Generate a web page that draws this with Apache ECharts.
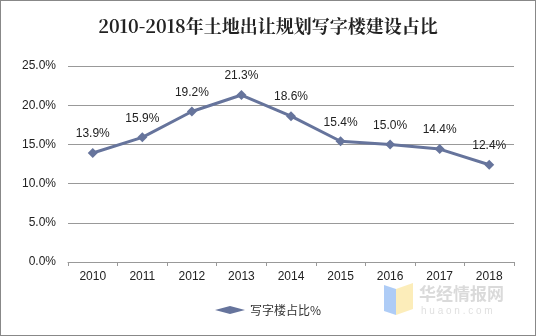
<!DOCTYPE html>
<html><head><meta charset="utf-8">
<script src="https://cdn.jsdelivr.net/npm/echarts@6/dist/echarts.min.js"></script>
<style>html,body{margin:0;padding:0;background:#fff}#c{width:536px;height:336px;box-sizing:border-box;border:1px solid #888}</style>
</head><body><div id="c"></div>
<script>
const categories = ['2010','2011','2012','2013','2014','2015','2016','2017','2018'];
const values = [13.9, 15.9, 19.2, 21.3, 18.6, 15.4, 15.0, 14.4, 12.4];
const yTicks = [0, 5, 10, 15, 20, 25];
const seriesName = '写字楼占比%';
const title = '2010-2018年土地出让规划写字楼建设占比';

const chart = echarts.init(document.getElementById('c'));
chart.setOption({
  animation: false,
  title: { text: title, left: 'center', top: 11,
    textStyle: { fontFamily: '"Noto Serif CJK SC","Noto Sans CJK SC",serif', fontWeight: 'bold', fontSize: 18, color: '#222' } },
  grid: { left: 67, right: 21, top: 65, bottom: 73, containLabel: false },
  legend: { bottom: 14, left: 'center', itemWidth: 30, itemHeight: 8,
    textStyle: { fontFamily: '"Noto Sans CJK SC",sans-serif', fontSize: 12, color: '#333' },
    data: [{ name: seriesName, icon: 'diamond' }] },
  xAxis: { type: 'category', data: categories, boundaryGap: true,
    axisLine: { lineStyle: { color: '#999' } },
    axisTick: { show: true, length: 4, lineStyle: { color: '#999' } },
    axisLabel: { color: '#222', fontFamily: 'Liberation Sans, Arial, sans-serif', fontSize: 12, margin: 9 } },
  yAxis: { type: 'value', min: yTicks[0], max: yTicks[yTicks.length-1], interval: 5,
    axisLine: { show: false }, axisTick: { show: false },
    splitLine: { lineStyle: { color: '#999' } },
    axisLabel: { color: '#222', fontFamily: 'Liberation Sans, Arial, sans-serif', fontSize: 12, margin: 12,
      formatter: v => v.toFixed(1) + '%' } },
  series: [{
    name: seriesName, type: 'line', data: values,
    symbol: 'diamond', symbolSize: 10,
    lineStyle: { color: '#66749C', width: 3 },
    itemStyle: { color: '#66749C' },
    label: { show: true, position: 'top', distance: 8, color: '#222',
      fontFamily: 'Liberation Sans, Arial, sans-serif', fontSize: 12,
      formatter: p => p.value.toFixed(1) + '%' }
  }],
  graphic: [
    { type: 'text', left: 418, top: 284, style: { text: '华经情报网', fill: 'rgba(150,150,150,0.35)', font: 'bold 17px "Noto Sans CJK SC"' } },
    { type: 'text', left: 420, top: 305, style: { text: 'h u a o n . c o m', fill: 'rgba(150,150,150,0.3)', font: '10px sans-serif' } },
    { type: 'polygon', shape: { points: [[383,284],[395,288],[395,314],[383,310]] }, style: { fill: 'rgba(120,170,240,0.6)' } },
    { type: 'polygon', shape: { points: [[395,288],[412,282],[412,308],[395,314]] }, style: { fill: 'rgba(250,225,140,0.6)' } }
  ]
});
</script></body></html>
